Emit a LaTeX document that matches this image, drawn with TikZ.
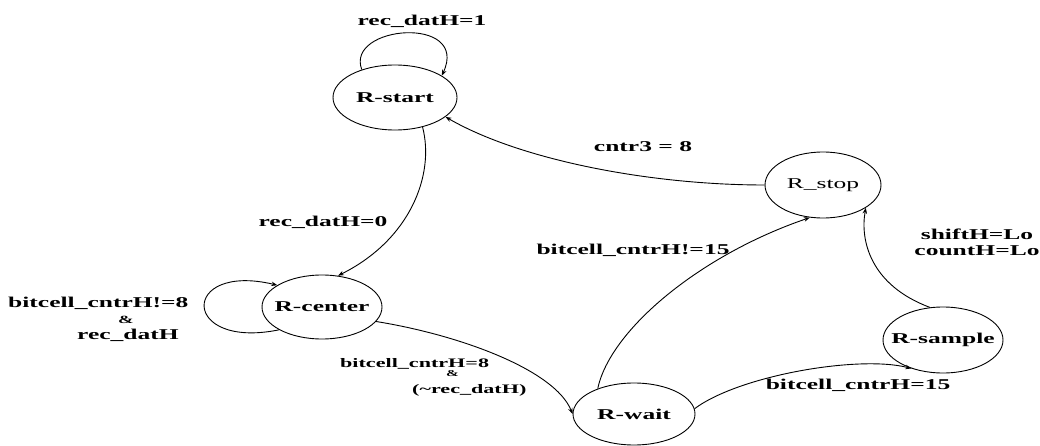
\documentclass[tikz,border=0pt]{standalone}
\usepackage{fontspec}
\setmainfont{Liberation Serif}
\newfontfamily\stretchfont{Liberation Serif}[FakeStretch=1.7]
\usetikzlibrary{shapes.geometric,arrows.meta}
\tikzset{
  st/.style={draw, ellipse, line width=0.9pt, inner sep=0pt,
    font=\stretchfont\fontsize{15}{17}\selectfont\bfseries},
  lbl/.style={inner sep=0pt, font=\stretchfont\fontsize{15}{17}\selectfont\bfseries},
  smalllbl/.style={inner sep=0pt, font=\stretchfont\fontsize{13}{14}\selectfont\bfseries},
  tr/.style={line width=0.9pt, -{Stealth[length=6pt,width=4.5pt]}}
}
\begin{document}
\begin{tikzpicture}[x=1pt,y=-1pt]
\useasboundingbox[fill=white] (0,0) rectangle (1040,446);
% states
\node[st, minimum width=124pt, minimum height=65pt] (start) at (395,97.5) {\makebox[0pt]{R-start}};
\node[st, minimum width=120pt, minimum height=64pt] (center) at (322,307) {\makebox[0pt]{R-center}};
\node[st, minimum width=122pt, minimum height=62pt] (wait) at (634,414) {\makebox[0pt]{R-wait}};
\node[st, minimum width=116pt, minimum height=66pt] (stop) at (823,185) {\makebox[0pt]{\mdseries R\_stop}};
\node[st, minimum width=120pt, minimum height=66pt] (sample) at (943,340) {\makebox[0pt]{R-sample}};
% transitions
\draw[tr] (start.140) .. controls (345,25) and (470,15) .. (start.25);
\draw[tr] (start.-47) .. controls (435,175) and (410,240) .. (center.63);
\draw[tr] (center.208) .. controls (180,350) and (180,262) .. (center.154);
\draw[tr] (center.-15) .. controls (460,335) and (555,370) .. (wait.180);
\draw[tr] (wait.145) .. controls (610,330) and (700,255) .. (stop.-112);
\draw[tr] (wait.5) .. controls (740,375) and (860,355) .. (sample.222);
\draw[tr] (sample.112) .. controls (870,285) and (860,240) .. (stop.-28);
\draw[tr] (stop.180) .. controls (650,185) and (520,160) .. (start.-21);
% labels
\node[lbl] (l1) at (422,21) {rec\_datH=1};
\node[lbl] (l2) at (323,222) {rec\_datH=0};
\node[lbl] (l3) at (643,147) {cntr3 = 8};
\node[lbl] (l4) at (633,250) {bitcell\_cntrH!=15};
\node[lbl] (l5) at (858,385) {bitcell\_cntrH=15};
\node[lbl, align=center] (l6) at (977,242) {shiftH=Lo\\[-1pt]countH=Lo};
\node[lbl, align=left, anchor=north west] (l7) at (8,297) {bitcell\_cntrH!=8\\[-1pt]\hspace*{110pt}{\fontsize{11}{12}\selectfont\&}\\[-1pt]\hspace*{69pt}rec\_datH};
\node[smalllbl, align=left, anchor=north west] (l8) at (340,358) {bitcell\_cntrH=8\\[-5pt]\hspace*{106pt}{\fontsize{9}{10}\selectfont\&}\\[3pt]\hspace*{72pt}(\textasciitilde rec\_datH)};
\end{tikzpicture}
\end{document}
